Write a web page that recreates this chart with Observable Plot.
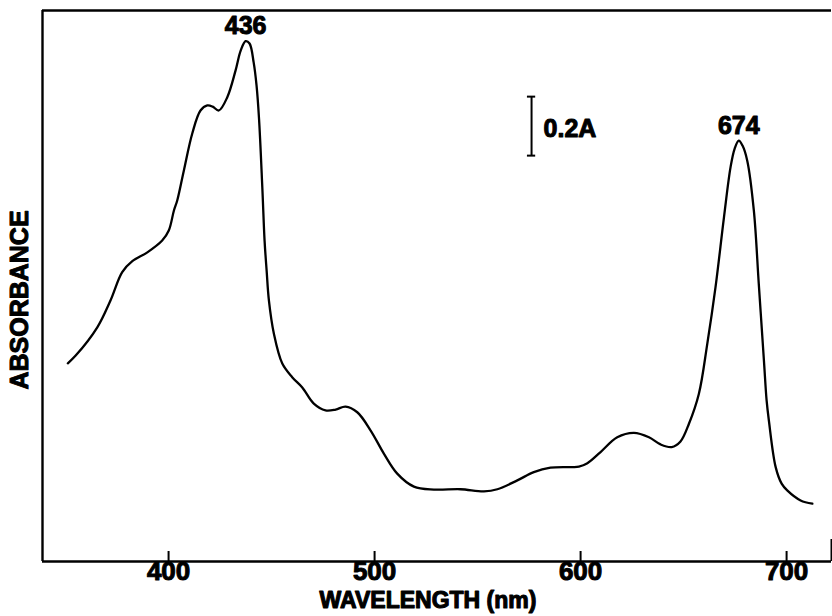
<!DOCTYPE html>
<html>
<head>
<meta charset="utf-8">
<script src="https://cdn.jsdelivr.net/npm/d3@7"></script>
<script src="https://cdn.jsdelivr.net/npm/@observablehq/plot@0.6"></script>
<style>
  html, body { margin: 0; padding: 0; background: #fff; }
  #chart svg { display: block; }
</style>
</head>
<body>
<div id="chart"></div>
<script>
// Wavelength (nm)
const wavelength = [351.1, 354.9, 365.4, 371.8, 377.5, 382.4, 389.7, 396.9, 400.1, 402.6, 404.2, 407.4, 411.5, 415.5, 418.8, 421.4, 424.4, 428.5, 432.5, 435.0, 437.4, 439.3, 441.3, 442.7, 443.9, 445.5, 446.6, 447.6, 448.7, 451.1, 455.2, 460.0, 464.9, 470.5, 476.2, 481.1, 485.9, 491.6, 498.1, 504.5, 511.0, 519.1, 528.8, 541.7, 553.1, 559.6, 569.3, 577.3, 585.4, 599.2, 603.3, 609.7, 617.8, 625.9, 633.2, 638.8, 644.2, 648.5, 652.6, 657.4, 661.5, 665.5, 669.6, 672.8, 674.8, 676.8, 678.6, 680.9, 684.1, 686.5, 689.0, 690.3, 691.4, 694.7, 697.6, 700.3, 706.8, 712.5];
// Relative absorbance (A units, arbitrary baseline)
const absorbance = [0.672, 0.698, 0.794, 0.885, 0.981, 1.018, 1.048, 1.088, 1.122, 1.190, 1.224, 1.325, 1.451, 1.529, 1.546, 1.542, 1.529, 1.574, 1.664, 1.732, 1.764, 1.756, 1.692, 1.614, 1.502, 1.269, 1.088, 0.986, 0.885, 0.773, 0.671, 0.625, 0.590, 0.535, 0.512, 0.515, 0.525, 0.506, 0.444, 0.366, 0.298, 0.254, 0.244, 0.245, 0.238, 0.245, 0.275, 0.303, 0.318, 0.322, 0.333, 0.371, 0.421, 0.436, 0.421, 0.397, 0.388, 0.407, 0.467, 0.568, 0.738, 0.930, 1.167, 1.337, 1.400, 1.427, 1.410, 1.359, 1.190, 0.941, 0.681, 0.546, 0.478, 0.320, 0.264, 0.241, 0.207, 0.196];

const xTicks = [400, 500, 600, 700];
const xDomain = [338.8, 721.8];
const yDomain = [0, 1.868];

const peakLabels = ["436", "674"];
const peakX = [437.4, 676.8];
const peakA = [1.764, 1.427];

const scaleBarX = [576.2];
const scaleBarA = [1.376, 1.576];
const scaleBarLabel = ["0.2A"];

const xLabel = "WAVELENGTH (nm)";
const yLabel = "ABSORBANCE";

const spectrum = wavelength.map((w, i) => ({w, a: absorbance[i]}));
const peaks = peakLabels.map((t, i) => ({t, x: peakX[i], a: peakA[i]}));

const FONT = "'Liberation Sans', Arial, Helvetica, sans-serif";
const H = 616, MT = 10, MB = 55;
const plotH = H - MT - MB;
const bold = {fontWeight: "bold", fill: "#000", stroke: "#000", strokeWidth: 1};

const chart = Plot.plot({
  width: 832,
  height: H,
  marginTop: MT,
  marginRight: 1,
  marginBottom: MB,
  marginLeft: 42,
  style: {background: "#fff", fontFamily: FONT, color: "#000"},
  x: {domain: xDomain, axis: null},
  y: {domain: yDomain, axis: null},
  marks: [
    // frame: left, top, bottom, short right stub
    Plot.ruleX([xDomain[0]], {stroke: "#000", strokeWidth: 2.4}),
    Plot.ruleY([yDomain[1]], {stroke: "#000", strokeWidth: 2.4}),
    Plot.ruleY([yDomain[0]], {stroke: "#000", strokeWidth: 2.4}),
    Plot.ruleX([xDomain[1]], {stroke: "#000", strokeWidth: 2, insetTop: plotH - 22}),
    // inward ticks
    Plot.ruleX(xTicks, {stroke: "#000", strokeWidth: 2, insetTop: plotH - 10}),
    // tick labels
    Plot.text(xTicks, {x: d => d, text: d => String(d), frameAnchor: "bottom", dy: 18,
      fontSize: 26, ...bold}),
    // axis titles
    Plot.text([xLabel], {text: d => d, frameAnchor: "bottom", dx: -9, dy: 46,
      fontSize: 23, ...bold, strokeWidth: 1.1}),
    Plot.text([yLabel], {text: d => d, frameAnchor: "left", textAnchor: "middle", rotate: -90, dx: -23, dy: 14,
      fontSize: 25, ...bold}),
    // spectrum
    Plot.line(spectrum, {x: "w", y: "a", stroke: "#000", strokeWidth: 2.3, curve: "catmull-rom"}),
    // peak labels
    Plot.text(peaks, {x: "x", y: "a", text: "t", fontSize: 25, ...bold, dy: -15}),
    // scale bar
    Plot.ruleX(scaleBarX, {y1: scaleBarA[0], y2: scaleBarA[1], stroke: "#000", strokeWidth: 2}),
    Plot.ruleY(scaleBarA, {x1: scaleBarX[0] - 2, x2: scaleBarX[0] + 2, stroke: "#000", strokeWidth: 2}),
    Plot.text(scaleBarLabel, {x: scaleBarX[0], y: (scaleBarA[0] + scaleBarA[1]) / 2, text: d => d,
      textAnchor: "start", dx: 12, dy: 3, fontSize: 25, ...bold})
  ]
});
document.getElementById("chart").append(chart);
</script>
</body>
</html>
